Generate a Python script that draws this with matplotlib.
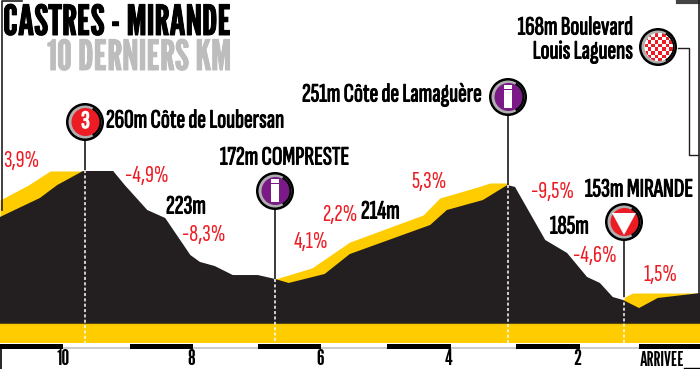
import numpy as np
from matplotlib import pyplot as plt
from matplotlib import patheffects
from matplotlib.colors import ListedColormap
from matplotlib.patches import Circle, Wedge, Polygon, Rectangle

# region: data
profileKm = [10.98, 10.36, 10.09, 9.69, 9.22, 9.04, 8.69, 8.41, 8.02, 7.87, 7.64, 7.36, 6.97, 6.70, 6.49, 5.93,
             5.54, 4.29, 4.03, 3.47, 3.09, 2.97, 2.50, 2.16, 1.85, 1.65, 1.45, 1.29, 1.04, 0.75, 0.09]
profileAlt = [221.7, 237.5, 248.3, 260, 260, 248.3, 227.5, 220.8, 190, 184.2, 180.8, 173.3, 173.3, 170, 166.7, 174.2,
              190.8, 215, 227.5, 235.8, 248.3, 246.7, 202.5, 191.7, 171.7, 166.7, 155, 152.5, 145.8, 154.2, 158.3]

climb1Km = [10.98, 10.54, 10.2, 9.69]
climb1Alt = [235.8, 248.3, 260, 260]
climb2Km = [6.70, 6.13, 5.54, 4.40, 4.14, 3.55, 3.36, 3.09]
climb2Alt = [170, 179.2, 200.8, 223.3, 237.5, 246.7, 250, 250]
climb3Km = [1.29, 1.14, 0.09]
climb3Alt = [154.2, 158.3, 158.3]

kmTicks = [10, 8, 6, 4, 2]
kmLabels = ["10", "8", "6", "4", "2"]
blackBarStart = [0, 130, 258, 387, 516, 639]
blackBarEnd = [63, 193, 321, 451, 580, 700]

gradeText = ["3,9%", "-4,9%", "-8,3%", "4,1%", "2,2%", "5,3%", "-9,5%", "-4,6%", "1,5%"]
gradeX = [21, 147, 204, 311, 340, 429, 552, 595, 661]
gradeY = [161, 176, 235, 242, 215, 182, 192, 256, 275]

placeText = ["260m Côte de Loubersan", "172m COMPRESTE", "251m Côte de Lamaguère", "153m MIRANDE",
             "223m", "214m", "185m"]
placeX = [106, 220, 302, 585, 166, 361, 550]
placeY = [121, 158, 95, 190, 207, 212, 227]

poiX = [85, 275, 508, 624]
poiY = [122, 191, 97, 222]
poiBase = [170, 279, 185, 297]
# endregion

# region: figure setup
ink = "#231F20"
yellow = "#FFCC00"
red = "#ED1C24"
purple = "#7B1A87"
# condensed faces first, listed fonts behind them in case they are missing
labelFont = ["Sofia Sans Extra Condensed", "Liberation Sans", "DejaVu Sans"]
titleFont = ["League Gothic", "Liberation Sans", "DejaVu Sans"]
plt.rcParams["font.family"] = labelFont


def heavy(color, width=0.7):
    # these faces only come in one weight here, so thicken them with a stroke
    return [patheffects.withStroke(linewidth=width, foreground=color)]


fig = plt.figure(figsize=(7, 3.69), dpi=100)
ax = fig.add_axes([0, 0, 1, 1])
ax.set_xlim(10.98, 0.093)
ax.set_ylim(95, 402.5)
ax.axis("off")

# overlay in pixels for the furniture
px = fig.add_axes([0, 0, 1, 1], facecolor="none")
px.set_xlim(0, 700)
px.set_ylim(369, 0)
px.axis("off")
# endregion

# region: profile
base = 133.3
ax.fill_between(climb1Km, climb1Alt, base, color=yellow, lw=0, zorder=1)
ax.fill_between(climb2Km, climb2Alt, base, color=yellow, lw=0, zorder=1)
ax.fill_between(climb3Km, climb3Alt, base, color=yellow, lw=0, zorder=1)
ax.fill_between(profileKm, profileAlt, base, color=ink, lw=0, zorder=2)
# endregion

# region: bottom band and distance bar
px.add_patch(Rectangle((0, 323), 700, 20, color=yellow, lw=0, zorder=1))
px.plot([0, 700], [323, 323], color="#5a4a10", lw=0.8, zorder=2)
px.plot([0, 700], [348, 348], color="#c4c4c4", lw=1.2, zorder=1)
for start, end in zip(blackBarStart, blackBarEnd):
    px.add_patch(Rectangle((start, 344), end - start, 5, color="black", lw=0, zorder=2))
for km, label in zip(kmTicks, kmLabels):
    ax.text(km, 103.5, label, ha="center", va="center", fontsize=16, family=titleFont, color="black", zorder=3)
px.text(662, 360, "ARRIVEE", ha="center", va="center", fontsize=14, family=titleFont, color="black")
px.plot([1, 1], [345, 369], color="black", lw=1.2)
px.plot([684, 699], [367.5, 367.5], color="black", lw=1)
# endregion

# region: frame lines and titles
px.plot([1.5, 1.5, 22], [210, 1, 1], color=ink, lw=1.2, zorder=0)
px.plot([678, 700], [1.5, 1.5], color="#444444", lw=3)
px.plot([678, 689, 689, 698], [48, 48, 155, 155], color=ink, lw=1)
px.plot([699, 699], [0, 293], color=ink, lw=1.2)

px.text(3, 24, "CASTRES - MIRANDE", ha="left", va="center", fontsize=30, family=titleFont, color="black",
        path_effects=heavy("black"))
px.text(231, 59, "10 DERNIERS KM", ha="right", va="center", fontsize=30, family=titleFont, color="#BDBDBD",
        path_effects=heavy("#BDBDBD"))
px.text(633, 28, "168m Boulevard", ha="right", va="center", fontsize=19, color="black", path_effects=heavy("black"))
px.text(633, 52, "Louis Laguens", ha="right", va="center", fontsize=19, color="black", path_effects=heavy("black"))
# endregion

# region: labels
for text, x, y in zip(placeText, placeX, placeY):
    px.text(x, y, text, ha="left", va="center", fontsize=19, color="black", zorder=6, path_effects=heavy("black"))
for text, x, y in zip(gradeText, gradeX, gradeY):
    px.text(x, y, text, ha="center", va="center", fontsize=18, color=red, zorder=6)
# endregion


# region: markers
def badge(x, y, fill, r=19):
    px.add_patch(Circle((x, y), r, color="black", lw=0, zorder=5))
    px.add_patch(Circle((x, y), r - 2.5, color="#AFAFAF", lw=0, zorder=5))
    px.add_patch(Wedge((x, y), r - 2.5, 300, 60, color="black", lw=0, zorder=5))
    px.add_patch(Circle((x + 0.5, y), r - 5, color=fill, lw=0, zorder=5))


for x, y, bottom in zip(poiX, poiY, poiBase):
    px.plot([x, x], [y, bottom], color="#3a3a3a", lw=1.4, zorder=4)
    px.plot([x, x], [bottom, 343], color="white", lw=1.1, ls=(0, (2, 1.5)), zorder=4)

badge(poiX[0], poiY[0], red)
px.text(poiX[0] + 0.5, poiY[0], "3", ha="center", va="center", fontsize=18, color="white", zorder=6,
        path_effects=heavy("white", 1.0))

for i in [1, 2]:
    badge(poiX[i], poiY[i], purple)
    px.add_patch(Rectangle((poiX[i] - 4, poiY[i] - 7), 8, 18, color="white", lw=0, zorder=6))
    px.add_patch(Rectangle((poiX[i] - 4, poiY[i] - 12), 8, 3.5, color="white", lw=0, zorder=6))

badge(poiX[3], poiY[3], red)
px.add_patch(Polygon([[poiX[3] - 12, poiY[3] - 9], [poiX[3] + 12, poiY[3] - 9], [poiX[3], poiY[3] + 13]],
                     color="white", lw=0, zorder=6))

# finish flag chequers
finishX, finishY = 658, 47
badge(finishX, finishY, "white")
clip = Circle((finishX + 0.5, finishY), 14, transform=px.transData)
checks = np.indices((8, 8)).sum(axis=0) % 2
edgesX = finishX - 14 + np.arange(9) * 3.6
edgesY = finishY - 14 + np.arange(9) * 3.6
mesh = px.pcolormesh(edgesX, edgesY, checks, cmap=ListedColormap(["white", red]), zorder=6)
mesh.set_clip_path(clip)
px.set_xlim(0, 700)
px.set_ylim(369, 0)
# endregion

fig.savefig("out.png", dpi=100)
